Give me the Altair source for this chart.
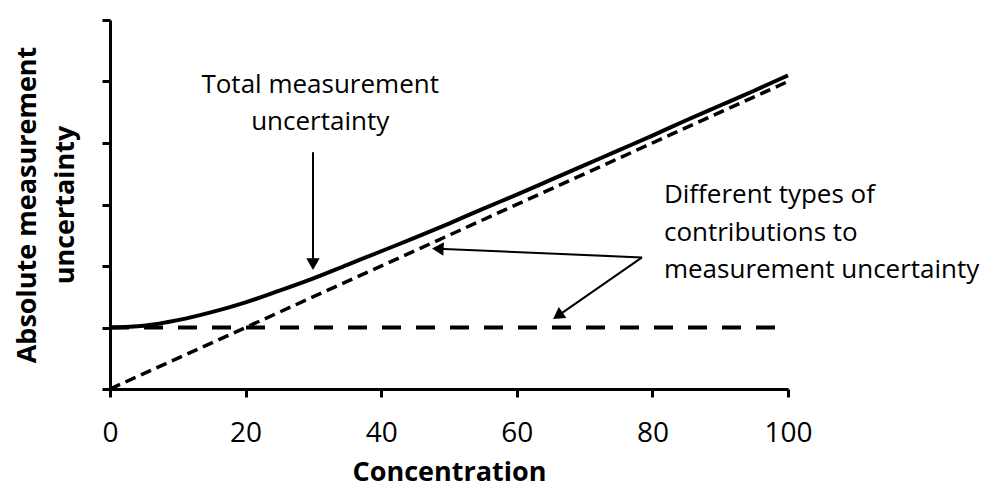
import altair as alt
import pandas as pd

# ---- data ----
conc = [0, 5, 10, 15, 20, 25, 30, 35, 40, 45, 50, 55, 60, 65, 70, 75, 80, 85, 90, 95, 100]
total = [1.00, 1.03, 1.12, 1.25, 1.41, 1.60, 1.80, 2.02, 2.24, 2.46, 2.69,
         2.93, 3.16, 3.40, 3.64, 3.88, 4.12, 4.37, 4.61, 4.85, 5.10]
prop_x = [0, 100]
prop_y = [0.0, 5.0]
const_x = [0, 100]
const_y = [1.0, 1.0]

x_ticks = [0, 20, 40, 60, 80, 100]
y_ticks = [0, 1, 2, 3, 4, 5, 6]

x_title = "Concentration"
y_title = ["Absolute measurement", "uncertainty"]

note_total = "Total measurement\nuncertainty"
note_types = "Different types of\ncontributions to\nmeasurement uncertainty"
note_x = [31.0, 81.7]
note_y = [4.81, 3.02]

arrow_x = [29.94, 78.47, 78.47]
arrow_y = [3.85, 2.14, 2.14]
arrow_x2 = [29.94, 48.35, 66.05]
arrow_y2 = [2.03, 2.28, 1.19]
head_angle = [180, 272.7, 235.6]

# ---- tables ----
df_total = pd.DataFrame({"x": conc, "y": total})
df_prop = pd.DataFrame({"x": prop_x, "y": prop_y})
df_const = pd.DataFrame({"x": const_x, "y": const_y})
df_notes_c = pd.DataFrame({"x": [note_x[0]], "y": [note_y[0]], "t": [note_total]})
df_notes_l = pd.DataFrame({"x": [note_x[1]], "y": [note_y[1]], "t": [note_types]})
df_arrows = pd.DataFrame({"x": arrow_x, "y": arrow_y, "x2": arrow_x2, "y2": arrow_y2})
df_heads = pd.DataFrame({"x": arrow_x2, "y": arrow_y2, "a": head_angle})

FONT = "Open Sans"

xs = alt.Scale(domain=[0, 100], nice=False, zero=False)
ys = alt.Scale(domain=[0, 6], nice=False, zero=False)

x_enc = alt.X("x:Q", scale=xs, axis=alt.Axis(
    values=x_ticks, title=x_title, labelBaseline="alphabetic", labelPadding=44,
    labelFlush=False, titleX=339, titleY=91, titleAlign="center",
    titleBaseline="alphabetic", titleAnchor="middle"))
y_enc = alt.Y("y:Q", scale=ys, axis=alt.Axis(
    values=y_ticks, labels=False, title=y_title, titleAngle=270,
    titleX=-75, titleY=184.5, titleAlign="center", titleBaseline="alphabetic",
    titleLineHeight=38, titleAnchor="middle"))

const_line = alt.Chart(df_const).mark_line(
    color="black", strokeWidth=4, strokeDash=[19, 15]).encode(x=x_enc, y=y_enc)
prop_line = alt.Chart(df_prop).mark_line(
    color="black", strokeWidth=3.5, strokeDash=[11, 6]).encode(x=x_enc, y=y_enc)
total_line = alt.Chart(df_total).mark_line(
    color="black", strokeWidth=4, interpolate="monotone").encode(x=x_enc, y=y_enc)

arrows = alt.Chart(df_arrows).mark_rule(color="black", strokeWidth=2).encode(
    x=x_enc, y=y_enc, x2="x2:Q", y2="y2:Q")
heads = alt.Chart(df_heads).mark_point(
    shape="triangle-up", filled=True, color="black", size=180, opacity=1).encode(
    x=x_enc, y=y_enc, angle=alt.Angle("a:Q", scale=None))

note_c = alt.Chart(df_notes_c).mark_text(
    font=FONT, fontSize=26, color="black", align="center", baseline="alphabetic",
    lineBreak="\n", lineHeight=37).encode(x=x_enc, y=y_enc, text="t:N")
note_l = alt.Chart(df_notes_l).mark_text(
    font=FONT, fontSize=26, color="black", align="left", baseline="alphabetic",
    lineBreak="\n", lineHeight=37.5).encode(x=x_enc, y=y_enc, text="t:N")

chart = alt.layer(const_line, prop_line, total_line, arrows, heads, note_c, note_l).properties(
    width=678, height=369, autosize="none",
    padding={"left": 102, "top": 12, "right": 199, "bottom": 98},
    background="white",
).configure_view(stroke=None).configure_axis(
    grid=False, domainColor="black", domainWidth=3, tickColor="black", tickWidth=3,
    tickSize=8, labelFont=FONT, labelFontSize=28, labelColor="black",
    titleFont=FONT, titleFontSize=27, titleFontWeight="bold", titleColor="black",
)

chart.save("out.html", embed_options={"renderer": "svg", "actions": False})
